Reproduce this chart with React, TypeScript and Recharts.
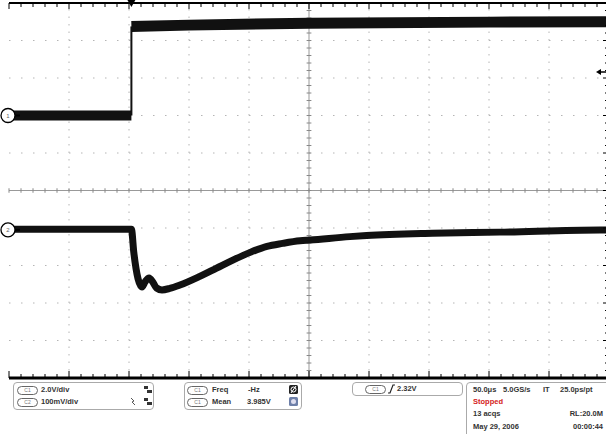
import { LineChart, Line, XAxis, YAxis, ReferenceLine, ReferenceDot } from "recharts";

// time in microseconds (50 us/div), ch1 in volts, ch2 in millivolts
const ch1LowT = [-100, 2];
const ch1LowV = [0, 0];
const ch1HighT = [2, 50, 150, 300, 400];
const ch1HighV = [4.75, 4.82, 4.92, 4.98, 5.0];
const ch2T = [-100, 2, 4, 7.5, 10.8, 13.5, 16.7, 20, 23, 27.5, 34, 42.5, 59, 73, 87, 101, 115, 128, 142.5, 151, 184, 198, 253, 309, 392.5, 400];
const ch2V = [2, 2, -60, -130, -152, -138, -128, -140, -155, -160, -156, -147, -124, -102, -80, -60, -44, -36, -29, -27, -18, -15, -9, -6, 0, 0];
const trigTime = 2;
const trigLevel = 2.32;

const xMajor = [-100, -50, 0, 50, 100, 150, 200, 250, 300, 350, 400];
const yMajor = [-25, -20, -15, -10, -5, 0, 5, 10, 15, 20, 25];

const zip = (t: number[], v: number[]) => t.map((x, i) => ({ t: x, v: v[i] }));
const ch1Low = zip(ch1LowT, ch1LowV);
const ch1High = zip(ch1HighT, ch1HighV);
const ch1Edge = [
  { t: trigTime, v: ch1LowV[ch1LowV.length - 1] },
  { t: trigTime, v: ch1HighV[0] },
];
const ch2 = zip(ch2T, ch2V);

const xTicks = Array.from({ length: 51 }, (_, i) => -100 + i * 10);
const yTicks = Array.from({ length: 51 }, (_, i) => -25 + i);

const BottomTick = ({ x, y, payload }: any) => {
  const major = payload.value % 50 === 0;
  return <line x1={x} x2={x} y1={y} y2={y - (major ? 7 : 4)} stroke="#000" strokeWidth={1} />;
};
const TopTick = ({ x, y, payload }: any) => {
  const major = payload.value % 50 === 0;
  return <line x1={x} x2={x} y1={y} y2={y + (major ? 6 : 4)} stroke="#000" strokeWidth={1} />;
};
const LeftTick = ({ x, y, payload }: any) => {
  const major = payload.value % 5 === 0;
  return <line x1={x} x2={x + (major ? 6 : 4)} y1={y} y2={y} stroke="#000" strokeWidth={1} />;
};
const RightTick = ({ x, y, payload }: any) => {
  const major = payload.value % 5 === 0;
  return <line x1={x} x2={x - (major ? 6 : 4)} y1={y} y2={y} stroke="#000" strokeWidth={1} />;
};

const GroundMark = ({ cx, cy, label }: any) => (
  <g>
    <line x1={cx + 2} x2={cx + 11} y1={cy} y2={cy} stroke="#000" strokeWidth={2} />
    <circle cx={cx - 1} cy={cy} r={7} fill="#fff" stroke="#000" strokeWidth={1.3} />
    <text x={cx - 1} y={cy + 2.5} fontSize={6} textAnchor="middle" fill="#666" fontFamily="Liberation Sans">
      {label}
    </text>
  </g>
);

const Pill = ({ left, top, label }: { left: number; top: number; label: string }) => (
  <div
    style={{
      position: "absolute",
      left,
      top,
      width: 21,
      height: 9,
      boxSizing: "border-box",
      border: "1px solid #666",
      borderRadius: 5,
      fontSize: 5,
      lineHeight: "7px",
      textAlign: "center",
      color: "#777",
      background: "#fff",
    }}
  >
    {label}
  </div>
);

const Txt = ({ left, top, children, color, right }: any) => (
  <div
    style={{
      position: "absolute",
      left,
      right,
      top,
      fontSize: 7.5,
      fontWeight: "bold",
      lineHeight: "9px",
      color: color || "#333",
      whiteSpace: "nowrap",
    }}
  >
    {children}
  </div>
);

const panel = (left: number, top: number, width: number, height: number) => ({
  position: "absolute" as const,
  left,
  top,
  width,
  height,
  boxSizing: "border-box" as const,
  border: "1.5px solid #aaa",
  borderRadius: 4,
});

const ChanIcon = ({ left, top }: { left: number; top: number }) => (
  <svg style={{ position: "absolute", left, top }} width={8} height={9}>
    <rect x={0} y={1} width={4} height={3} fill="#333" />
    <rect x={3} y={5} width={5} height={3} fill="#333" />
  </svg>
);

export default function App() {
  return (
    <div
      style={{
        position: "absolute",
        left: 0,
        top: 0,
        width: 606,
        height: 434,
        overflow: "hidden",
        background: "#fff",
        fontFamily: '"Liberation Sans", Arial, sans-serif',
      }}
    >
      <LineChart width={620} height={380} margin={{ top: 0, right: 0, bottom: 0, left: 0 }}>
        <XAxis
          xAxisId="b"
          type="number"
          dataKey="t"
          domain={[-100, 400]}
          allowDataOverflow
          ticks={xTicks}
          interval={0}
          height={2}
          tickSize={0}
          tickMargin={0}
          tickLine={false}
          axisLine={{ stroke: "#000", strokeWidth: 3 }}
          tick={BottomTick}
        />
        <XAxis
          xAxisId="t"
          orientation="top"
          type="number"
          dataKey="t"
          domain={[-100, 400]}
          allowDataOverflow
          ticks={xTicks}
          interval={0}
          height={3}
          tickSize={0}
          tickMargin={0}
          tickLine={false}
          axisLine={{ stroke: "#000", strokeWidth: 2 }}
          tick={TopTick}
        />
        <YAxis
          yAxisId="g"
          type="number"
          domain={[-25, 25]}
          allowDataOverflow
          ticks={yTicks}
          interval={0}
          width={9}
          tickSize={0}
          tickMargin={0}
          tickLine={false}
          axisLine={{ stroke: "#000", strokeWidth: 2 }}
          tick={LeftTick}
        />
        <YAxis
          yAxisId="r"
          orientation="right"
          type="number"
          domain={[-25, 25]}
          allowDataOverflow
          ticks={yTicks}
          interval={0}
          width={11}
          tickSize={0}
          tickMargin={0}
          tickLine={false}
          axisLine={{ stroke: "#000", strokeWidth: 2 }}
          tick={RightTick}
        />
        <YAxis yAxisId="c1" hide type="number" domain={[-14, 6]} allowDataOverflow />
        <YAxis yAxisId="c2" hide type="number" domain={[-395, 605]} allowDataOverflow />

        {yMajor
          .filter((v) => v !== 0 && Math.abs(v) !== 25)
          .map((v) => (
            <ReferenceLine key={"h" + v} xAxisId="b" yAxisId="g" y={v} stroke="#b5b5b5" strokeDasharray="1.5 10.5" />
          ))}
        {xMajor
          .filter((v) => v !== 150 && v !== -100 && v !== 400)
          .map((v) => (
            <ReferenceLine key={"v" + v} xAxisId="b" yAxisId="g" x={v} stroke="#b5b5b5" strokeDasharray="1.5 6" />
          ))}
        <ReferenceLine xAxisId="b" yAxisId="g" y={0} stroke="#999" />
        <ReferenceLine xAxisId="b" yAxisId="g" x={150} stroke="#999" />
        {xTicks.map((t) => (
          <ReferenceLine
            key={"cx" + t}
            xAxisId="b"
            yAxisId="g"
            segment={[
              { x: t, y: -0.3 },
              { x: t, y: 0.3 },
            ]}
            stroke="#888"
          />
        ))}
        {yTicks.map((v) => (
          <ReferenceLine
            key={"cy" + v}
            xAxisId="b"
            yAxisId="g"
            segment={[
              { x: 148, y: v },
              { x: 152, y: v },
            ]}
            stroke="#888"
          />
        ))}

        <Line xAxisId="b" yAxisId="c1" data={ch1Low} dataKey="v" type="linear" stroke="#111" strokeWidth={10} dot={false} isAnimationActive={false} />
        <Line xAxisId="b" yAxisId="c1" data={ch1Edge} dataKey="v" type="linear" stroke="#111" strokeWidth={2} dot={false} isAnimationActive={false} />
        <Line xAxisId="b" yAxisId="c1" data={ch1High} dataKey="v" type="linear" stroke="#111" strokeWidth={11} dot={false} isAnimationActive={false} />
        <Line xAxisId="b" yAxisId="c2" data={ch2} dataKey="v" type="monotone" stroke="#111" strokeWidth={7} dot={false} isAnimationActive={false} />

        <ReferenceDot xAxisId="b" yAxisId="c1" x={-100} y={0} ifOverflow="visible" shape={(p: any) => <GroundMark cx={p.cx} cy={p.cy} label="1" />} />
        <ReferenceDot xAxisId="b" yAxisId="c2" x={-100} y={0} ifOverflow="visible" shape={(p: any) => <GroundMark cx={p.cx} cy={p.cy} label="2" />} />
        <ReferenceDot
          xAxisId="b"
          yAxisId="g"
          x={trigTime}
          y={25}
          ifOverflow="visible"
          shape={(p: any) => <polygon points={`${p.cx - 4},${p.cy - 3} ${p.cx + 4},${p.cy - 3} ${p.cx},${p.cy + 4}`} fill="#000" />}
        />
        <ReferenceDot
          xAxisId="b"
          yAxisId="c1"
          x={400}
          y={trigLevel}
          ifOverflow="visible"
          shape={(p: any) => (
            <g>
              <polygon points={`${p.cx - 13},${p.cy} ${p.cx - 8},${p.cy - 3} ${p.cx - 8},${p.cy + 3}`} fill="#000" />
              <line x1={p.cx - 8} x2={p.cx - 3} y1={p.cy} y2={p.cy} stroke="#000" strokeWidth={1.5} />
            </g>
          )}
        />
      </LineChart>

      <div style={panel(13, 382, 141, 28)} />
      <Pill left={17} top={386} label="C1" />
      <Txt left={41} top={385}>2.0V/div</Txt>
      <ChanIcon left={144} top={385} />
      <Pill left={17} top={398} label="C2" />
      <Txt left={41} top={397}>100mV/div</Txt>
      <svg style={{ position: "absolute", left: 130, top: 397 }} width={6} height={9}>
        <path d="M1 1 L4 4 L2 5 L5 8" stroke="#555" strokeWidth={1} fill="none" />
      </svg>
      <ChanIcon left={144} top={397} />

      <div style={panel(184, 382, 118, 28)} />
      <Pill left={187} top={386} label="C1" />
      <Txt left={212} top={385}>Freq</Txt>
      <Txt left={248} top={385}>-Hz</Txt>
      <svg style={{ position: "absolute", left: 289, top: 385 }} width={9} height={9}>
        <rect x={0} y={0} width={9} height={9} rx={1.5} fill="#222" />
        <circle cx={4.5} cy={4.5} r={2.5} stroke="#fff" strokeWidth={1} fill="none" />
        <line x1={2} y1={8} x2={7} y2={1} stroke="#fff" strokeWidth={1} />
      </svg>
      <Pill left={187} top={398} label="C1" />
      <Txt left={212} top={397}>Mean</Txt>
      <Txt left={247} top={397}>3.985V</Txt>
      <svg style={{ position: "absolute", left: 289, top: 397 }} width={9} height={9}>
        <rect x={0} y={0} width={9} height={9} rx={1.5} fill="#6d7fa8" />
        <circle cx={4.5} cy={4.5} r={2.5} fill="#dde" />
      </svg>

      <div style={panel(352, 382, 111, 14)} />
      <Pill left={365} top={385} label="C1" />
      <svg style={{ position: "absolute", left: 387, top: 384 }} width={9} height={10}>
        <path d="M1 9 L3 9 L6 1 L8 1" stroke="#222" strokeWidth={1.2} fill="none" />
      </svg>
      <Txt left={397} top={384}>2.32V</Txt>

      <div style={panel(466, 382, 150, 60)} />
      <Txt left={473} top={385}>50.0μs</Txt>
      <Txt left={503} top={385}>5.0GS/s</Txt>
      <Txt left={543} top={385}>IT</Txt>
      <Txt left={560} top={385}>25.0ps/pt</Txt>
      <Txt left={473} top={397} color="#d42020">Stopped</Txt>
      <Txt left={473} top={409}>13 acqs</Txt>
      <Txt right={3} top={409}>RL:20.0M</Txt>
      <Txt left={473} top={422}>May 29, 2006</Txt>
      <Txt right={3} top={422}>00:00:44</Txt>
    </div>
  );
}
